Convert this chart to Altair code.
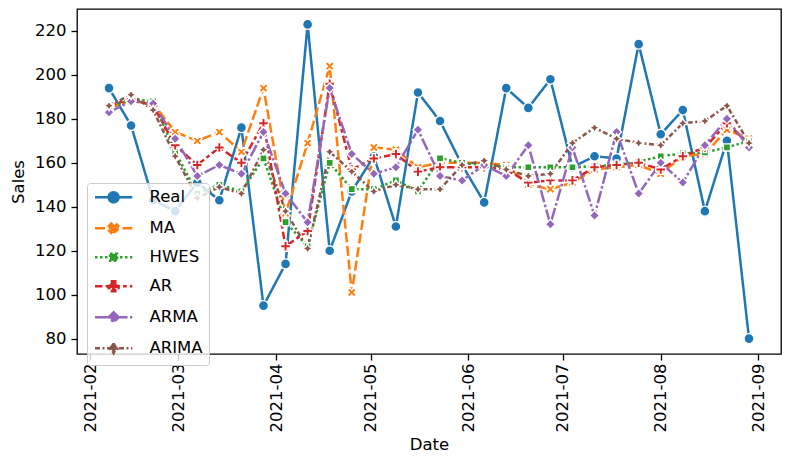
import math
import altair as alt
import pandas as pd

# ---------------- data ----------------
dates = ["2021-02-07", "2021-02-14", "2021-02-21", "2021-02-28", "2021-03-07", "2021-03-14",
         "2021-03-21", "2021-03-28", "2021-04-04", "2021-04-11", "2021-04-18", "2021-04-25",
         "2021-05-02", "2021-05-09", "2021-05-16", "2021-05-23", "2021-05-30", "2021-06-06",
         "2021-06-13", "2021-06-20", "2021-06-27", "2021-07-04", "2021-07-11", "2021-07-18",
         "2021-07-25", "2021-08-01", "2021-08-08", "2021-08-15", "2021-08-22", "2021-08-29"]

real = [194, 177, 143, 138, 151, 143, 176, 95, 114, 223, 120, 147, 163, 131, 192,
        179, 159, 142, 194, 185, 198, 158, 163, 162, 214, 173, 184, 138, 170, 80]
ma = [185, 188, 187, 174, 170, 174, 165, 194, 137, 169, 204, 101, 167, 166, 158,
      160, 160, 160, 159, 150, 148, 151, 157, 158, 159, 155, 163, 164, 175, 171]
hwes = [185, 189, 188, 165, 146, 150, 147, 162, 133, 122, 160, 148, 148, 152, 147,
        162, 160, 159, 158, 158, 158, 158, 158.5, 159, 160.5, 163, 164.3, 164.7, 167, 170]
ar = [186, 189, 186, 168, 159, 167, 160, 178, 122, 129, 196, 157, 162, 164, 156,
      158, 158, 158, 157, 151, 152, 152, 158, 159, 160, 157, 163, 167, 178, 169]
arma = [183, 188, 187, 171, 154, 159, 155, 174, 146, 133, 194, 164, 155, 158, 175,
        154, 152, 159, 154, 168, 132, 167, 136, 174, 146, 160, 151, 168, 180, 167]
arima = [186, 191, 184, 163, 144, 149, 146, 166, 138, 121, 165, 156, 147, 150, 148,
         148, 159, 161, 157, 154, 155, 169, 176, 171, 169, 168, 178, 179, 186, 169]

series_names = ["Real", "MA", "HWES", "AR", "ARMA", "ARIMA"]
series_values = [real, ma, hwes, ar, arma, arima]
y_ticks = [80, 100, 120, 140, 160, 180, 200, 220]
tick_months = [2, 3, 4, 5, 6, 7, 8, 9]

# ---------------- styling ----------------
colors = ["#1f77b4", "#ff7f0e", "#2ca02c", "#d62728", "#9467bd", "#8c564b"]
dashes = [[1, 0], [10, 3.75], [2.5, 2.5], [7.5, 3.1, 3.75, 3.1],
          [12.5, 2.5, 2.5, 2.5], [5, 2.5, 2, 2.5]]

rows = []
for name, vals in zip(series_names, series_values):
    for d, v in zip(dates, vals):
        rows.append({"Date": d, "Sales": v, "Series": name})
df = pd.DataFrame(rows)


def poly(pts, dx=0.0):
    return "M" + "L".join(f"{px + dx:.3f},{py:.3f}" for px, py in pts) + "Z"


def circle(dx=0.0):
    return f"M{dx - 1:.3f},0A1,1 0 1,0 {dx + 1:.3f},0A1,1 0 1,0 {dx - 1:.3f},0Z"


h = 1.0 / 3.0
plus_pts = [(-h, -1), (h, -1), (h, -h), (1, -h), (1, h), (h, h), (h, 1), (-h, 1),
            (-h, h), (-1, h), (-1, -h), (-h, -h)]
c45 = math.cos(math.pi / 4)
x_pts = [(px * c45 - py * c45, px * c45 + py * c45) for px, py in plus_pts]
a = 0.7071
square_pts = [(-a, -a), (a, -a), (a, a), (-a, a)]
diamond_pts = [(0, -1), (1, 0), (0, 1), (-1, 0)]
star_pts = [(0, -1), (0.354, -0.354), (1, 0), (0.354, 0.354), (0, 1),
            (-0.354, 0.354), (-1, 0), (-0.354, -0.354)]


def markers(dx=0.0):
    return [circle(dx), poly(x_pts, dx), poly(square_pts, dx), poly(plus_pts, dx),
            poly(diamond_pts, dx), poly(star_pts, dx)]


point_shapes = markers(0.0)
legend_shapes = ["M-1.25,0H6.21" + m for m in markers(2.47)]

font = "DejaVu Sans"

x_enc = alt.X(
    "Date:T", title="Date",
    scale=alt.Scale(type="utc", domain=[
        alt.DateTime(year=2021, month=1, date=27, hours=20, minutes=24, utc=True),
        alt.DateTime(year=2021, month=9, date=8, hours=3, minutes=36, utc=True)]),
    axis=alt.Axis(values=[alt.DateTime(year=2021, month=m, date=1, utc=True) for m in tick_months],
                  format="%Y-%m", labelAngle=270, labelAlign="right", labelBaseline="middle",
                  labelPadding=3, titlePadding=5))
y_enc = alt.Y("Sales:Q", title="Sales",
              scale=alt.Scale(domain=[73, 230], nice=False, zero=False),
              axis=alt.Axis(values=y_ticks, labelPadding=5, titlePadding=8))

color_scale = alt.Scale(domain=series_names, range=colors)
dash_scale = alt.Scale(domain=series_names, range=dashes)

base = alt.Chart(df)

lines = base.mark_line(strokeWidth=2.5).encode(
    x=x_enc, y=y_enc,
    color=alt.Color("Series:N", scale=color_scale, legend=None),
    strokeDash=alt.StrokeDash("Series:N", scale=dash_scale, legend=None),
)

points = base.mark_point(filled=True, opacity=1, size=100, stroke="white", strokeWidth=1.4).encode(
    x=x_enc, y=y_enc,
    color=alt.Color("Series:N", scale=color_scale, legend=None),
    shape=alt.Shape("Series:N", scale=alt.Scale(domain=series_names, range=point_shapes), legend=None),
)

leg = alt.Legend(orient="none", legendX=10, legendY=174, labelFont=font, labelFontSize=16.5,
                 labelColor="black", symbolSize=100, symbolStrokeWidth=2.5, symbolOpacity=1,
                 labelOffset=40, rowPadding=10, padding=6, fillColor="rgba(255,255,255,0.8)",
                 strokeColor="#cccccc", cornerRadius=3)

legend_layer = base.transform_filter("datum.Sales > 100000").mark_point(
    filled=True, opacity=1, size=100, strokeWidth=2.5).encode(
    x=x_enc, y=y_enc,
    color=alt.Color("Series:N", scale=color_scale, legend=leg, title=None),
    stroke=alt.Stroke("Series:N", scale=alt.Scale(domain=series_names, range=colors), legend=leg, title=None),
    shape=alt.Shape("Series:N", scale=alt.Scale(domain=series_names, range=legend_shapes), legend=leg, title=None),
    strokeDash=alt.StrokeDash("Series:N", scale=dash_scale, legend=leg, title=None),
)

chart = alt.layer(lines, points, legend_layer).resolve_scale(
    color="independent", shape="independent", strokeDash="independent", stroke="independent"
).properties(
    width=704, height=345,
    padding={"left": 69, "top": 1, "right": 1, "bottom": 99},
    autosize=alt.AutoSizeParams(type="none"),
    background="white",
).configure_axis(
    labelFont=font, titleFont=font, labelFontSize=16.5, titleFontSize=16.5,
    labelColor="black", titleColor="black", tickColor="black", tickWidth=1.3, tickSize=6,
    domain=False, grid=False, titleFontWeight="normal",
).configure_view(stroke="black", strokeWidth=1.3)

chart.save("out.html", embed_options={"renderer": "svg", "actions": False})
